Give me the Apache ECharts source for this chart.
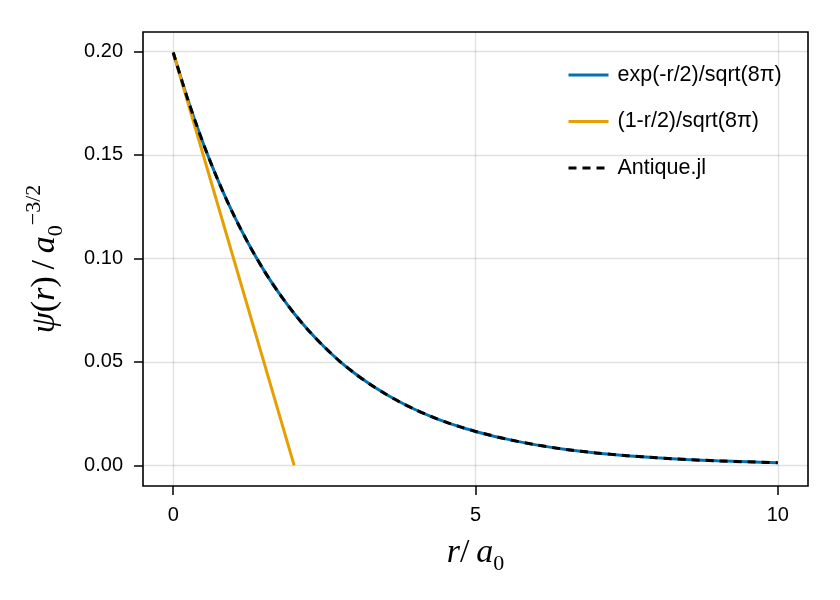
<!DOCTYPE html>
<html>
<head>
<meta charset="utf-8">
<script src="https://cdn.jsdelivr.net/npm/echarts@6/dist/echarts.min.js"></script>
<style>html,body{margin:0;padding:0;background:#fff}#c{width:840px;height:600px}</style>
</head>
<body>
<div id="c"></div>
<script>
// Data
const rVals = [0,0.25,0.5,0.75,1,1.25,1.5,1.75,2,2.25,2.5,2.75,3,3.25,3.5,3.75,4,4.25,4.5,4.75,5,5.5,6,6.5,7,7.5,8,8.5,9,9.5,10];
const expVals = [0.1995,0.1760,0.1553,0.1371,0.1210,0.1068,0.0942,0.0832,0.0734,0.0648,0.0572,0.0504,0.0445,0.0393,0.0347,0.0306,0.0270,0.0238,0.0210,0.0186,0.0164,0.0128,0.0099,0.0077,0.0060,0.0047,0.0037,0.0028,0.0022,0.0017,0.0013];
const linR = [0, 2];
const linVals = [0.1995, 0.0];
const xTicks = [0, 5, 10];
const yTicks = [0, 0.05, 0.10, 0.15, 0.20];
const seriesNames = ['exp(-r/2)/sqrt(8π)', '(1-r/2)/sqrt(8π)', 'Antique.jl'];

const zip = (xs, ys) => xs.map((x, i) => [x, ys[i]]);
const gridStyle = {color: 'rgba(0,0,0,0.12)', width: 1.3, type: 'solid'};
const gridLines = [
  ...xTicks.map(v => ({xAxis: v})),
  ...yTicks.map(v => ({yAxis: v}))
];
const sansFont = '"Liberation Sans", Arial, sans-serif';
const serifFont = '"Liberation Serif", "DejaVu Serif", serif';
const mathRich = {
  i: {fontFamily: serifFont, fontStyle: 'italic', fontSize: 34, lineHeight: 44, color: '#000', verticalAlign: 'middle'},
  n: {fontFamily: serifFont, fontStyle: 'normal', fontSize: 34, lineHeight: 44, color: '#000', verticalAlign: 'middle'},
  s: {fontFamily: serifFont, fontSize: 22, lineHeight: 22, color: '#000', verticalAlign: 'bottom'},
  u: {fontFamily: serifFont, fontSize: 22, lineHeight: 22, color: '#000', verticalAlign: 'top'}
};

const chart = echarts.init(document.getElementById('c'), null, {renderer: 'canvas'});
chart.setOption({
  animation: false,
  backgroundColor: '#fff',
  grid: {left: 143, right: 32, top: 32, bottom: 114, show: true, borderColor: '#000', borderWidth: 1.6, backgroundColor: 'transparent', containLabel: false},
  legend: {
    data: seriesNames,
    orient: 'vertical',
    left: 562,
    top: 58,
    itemWidth: 40,
    itemHeight: 14,
    itemGap: 22.5,
    itemStyle: {opacity: 0},
    lineStyle: {width: 3},
    textStyle: {fontFamily: sansFont, fontSize: 21.5, lineHeight: 24, color: '#000', padding: [0, 0, 0, 4]},
    backgroundColor: 'transparent'
  },
  xAxis: {
    type: 'value', min: -0.5, max: 10.5,
    name: '{i|r}{n|/\u2009}{i|a}{s|0}',
    nameLocation: 'middle', nameGap: 45,
    nameTextStyle: {rich: mathRich},
    axisLine: {show: false, onZero: false},
    splitLine: {show: false},
    axisTick: {show: true, customValues: xTicks, length: 9, inside: false, lineStyle: {color: '#000', width: 1.5}},
    axisLabel: {customValues: xTicks, margin: 19, fontFamily: sansFont, fontSize: 20, color: '#000', formatter: v => String(Math.round(v))}
  },
  yAxis: {
    type: 'value', min: -0.00997, max: 0.2094,
    name: '{i|ψ}{n|(}{i|r}{n|)\u2009/\u2009}{i|a}{s|0}{u|−3/2}',
    nameLocation: 'middle', nameGap: 76, nameRotate: 90,
    nameTextStyle: {rich: mathRich},
    axisLine: {show: false, onZero: false},
    splitLine: {show: false},
    axisTick: {show: true, customValues: yTicks, length: 9, inside: false, lineStyle: {color: '#000', width: 1.5}},
    axisLabel: {customValues: yTicks, margin: 20, fontFamily: sansFont, fontSize: 20, color: '#000', formatter: v => v.toFixed(2)}
  },
  series: [
    {
      name: seriesNames[0], type: 'line', data: zip(rVals, expVals), smooth: 0.3,
      showSymbol: false, symbol: 'none', z: 3,
      lineStyle: {color: '#0072B2', width: 3}, itemStyle: {color: '#0072B2'},
      markLine: {silent: true, symbol: 'none', label: {show: false}, lineStyle: gridStyle, data: gridLines, z: 1, animation: false}
    },
    {
      name: seriesNames[1], type: 'line', data: zip(linR, linVals),
      showSymbol: false, symbol: 'none', z: 4,
      lineStyle: {color: '#E69F00', width: 3}, itemStyle: {color: '#E69F00'}
    },
    {
      name: seriesNames[2], type: 'line', data: zip(rVals, expVals), smooth: 0.3,
      showSymbol: false, symbol: 'none', z: 5,
      lineStyle: {color: '#000', width: 3, type: [8, 6]}, itemStyle: {color: '#000'}
    }
  ]
});
</script>
</body>
</html>
